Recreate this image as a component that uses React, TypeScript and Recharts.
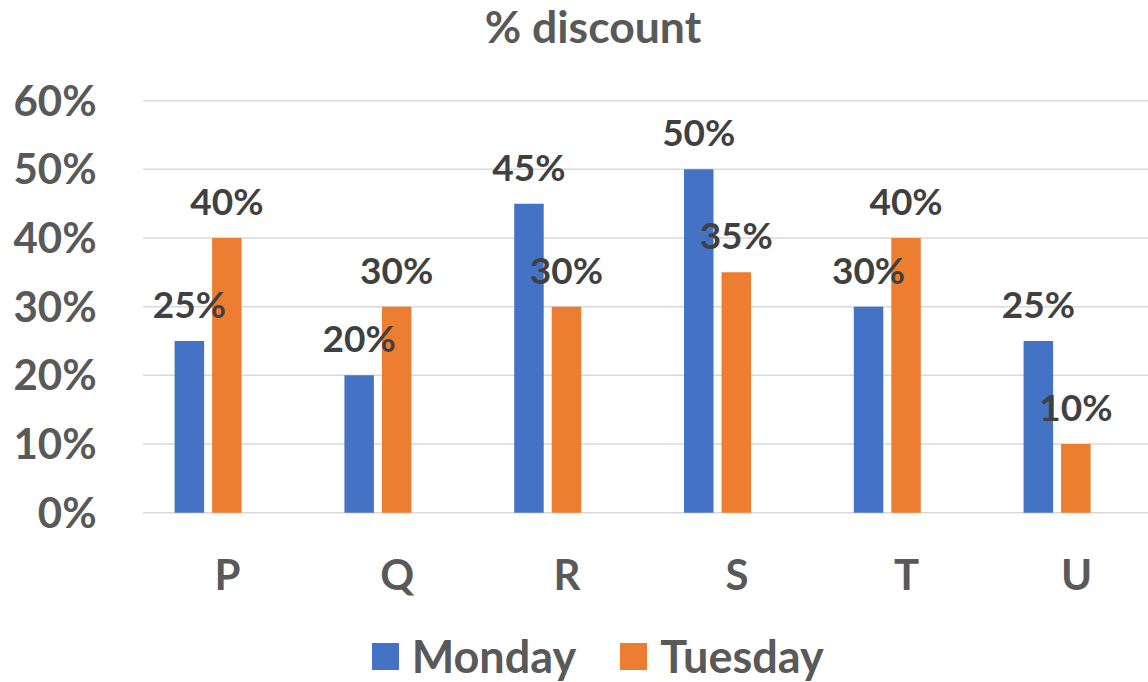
import { BarChart, Bar, XAxis, YAxis, CartesianGrid, Legend, LabelList } from 'recharts'

const stores = ['P', 'Q', 'R', 'S', 'T', 'U']
const monday = [25, 20, 45, 50, 30, 25]
const tuesday = [40, 30, 30, 35, 40, 10]
const percentTicks = [0, 10, 20, 30, 40, 50, 60]
const series = [
  { key: 'monday', name: 'Monday', color: '#4472C4' },
  { key: 'tuesday', name: 'Tuesday', color: '#ED7D31' },
]

const data = stores.map((store, i) => ({ store, monday: monday[i], tuesday: tuesday[i] }))

const FONT = 'Lato, "Open Sans", sans-serif'
const AXIS_GREY = '#595959'

const LegendBox = () => (
  <div style={{ display: 'flex', justifyContent: 'center', alignItems: 'center', paddingLeft: 53, fontFamily: FONT }}>
    {series.map((s, i) => (
      <div key={s.key} style={{ display: 'flex', alignItems: 'center', marginLeft: i ? 44 : 0 }}>
        <span style={{ width: 27, height: 27, background: s.color, display: 'inline-block', marginRight: 13 }} />
        <span style={{ fontSize: 45, fontWeight: 700, color: AXIS_GREY, lineHeight: '52px' }}>{s.name}</span>
      </div>
    ))}
  </div>
)

export default function App() {
  return (
    <div style={{ position: 'absolute', left: 0, top: 0, width: 1148, height: 682, background: '#fff' }}>
      <div
        style={{
          position: 'absolute', left: 0, width: 1186, top: 4, textAlign: 'center',
          fontFamily: FONT, fontSize: 44.5, fontWeight: 700, lineHeight: '44px', color: AXIS_GREY,
        }}
      >
        % discount
      </div>
      <BarChart
        width={1148}
        height={682}
        data={data}
        barSize={29.5}
        barGap={8}
        margin={{ top: 100.7, right: 5.6, bottom: 0, left: 0 }}
      >
        <CartesianGrid
          vertical={false}
          horizontal={(p: any) => (
            <line key={p.key} x1={143} x2={1148} y1={p.y1} y2={p.y2} stroke="#D9D9D9" strokeWidth={1.5} />
          )}
        />
        <XAxis
          dataKey="store"
          axisLine={false}
          tickLine={false}
          tickSize={0}
          tickMargin={47}
          height={117.3}
          tick={{ fill: AXIS_GREY, fontSize: 42, fontWeight: 700, fontFamily: FONT, dx: 19 }}
        />
        <YAxis
          domain={[0, 60]}
          ticks={percentTicks}
          tickFormatter={(v) => `${v}%`}
          axisLine={false}
          tickLine={false}
          tickSize={0}
          tickMargin={27}
          width={123.6}
          tick={{ fill: AXIS_GREY, fontSize: 42, fontWeight: 700, fontFamily: FONT }}
        />
        <Legend verticalAlign="bottom" height={52} content={<LegendBox />} />
        {series.map((s) => (
          <Bar key={s.key} dataKey={s.key} name={s.name} fill={s.color} isAnimationActive={false}>
            <LabelList
              dataKey={s.key}
              position="top"
              offset={23}
              formatter={(v: any) => `${v}%`}
              style={{ fill: '#404040', fontSize: 37, fontWeight: 700, fontFamily: FONT }}
            />
          </Bar>
        ))}
      </BarChart>
    </div>
  )
}
